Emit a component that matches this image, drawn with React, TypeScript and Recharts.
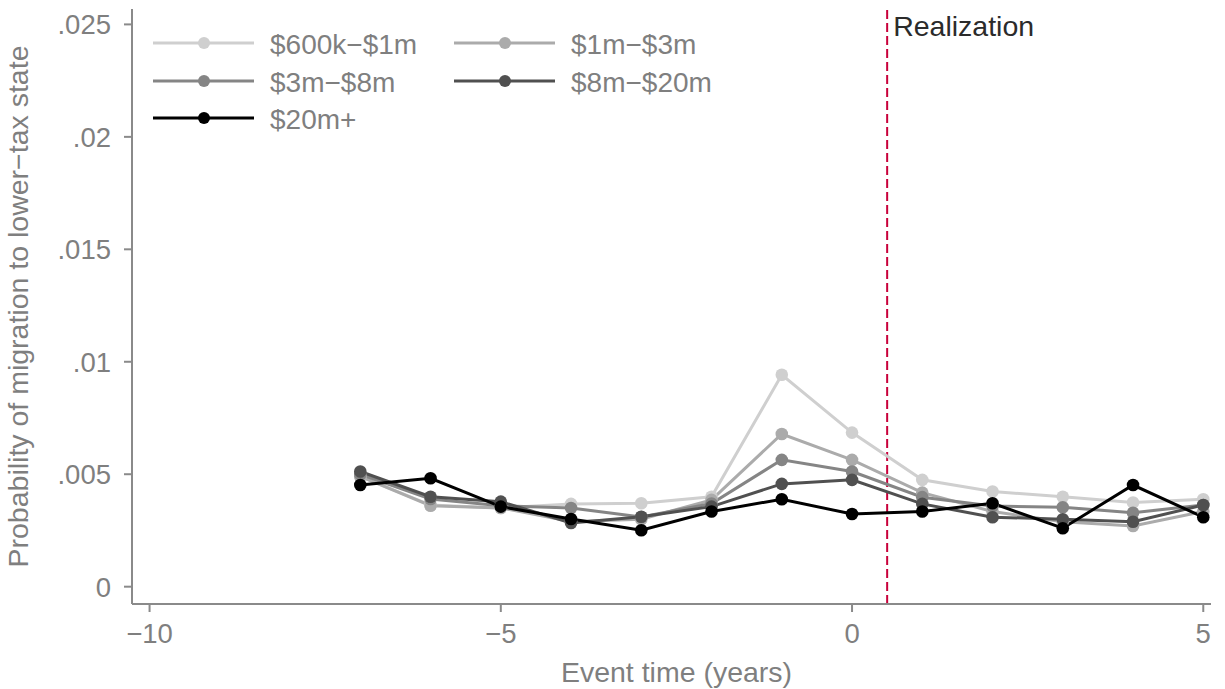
import { LineChart, Line, XAxis, YAxis, ReferenceLine, Legend } from 'recharts'

const years = [-7, -6, -5, -4, -3, -2, -1, 0, 1, 2, 3, 4, 5]

const band600k = [0.0049, 0.00363, 0.0035, 0.00368, 0.00371, 0.004, 0.00942, 0.00685, 0.00475, 0.00423, 0.004, 0.00374, 0.00389]
const band1m = [0.0049, 0.0036, 0.0035, 0.0029, 0.003, 0.00386, 0.00679, 0.00564, 0.00418, 0.00334, 0.00289, 0.0027, 0.00334]
const band3m = [0.005, 0.0039, 0.0036, 0.0035, 0.0031, 0.0037, 0.00564, 0.00512, 0.00398, 0.00359, 0.00353, 0.00329, 0.00363]
const band8m = [0.00512, 0.004, 0.00378, 0.00283, 0.00311, 0.00356, 0.00457, 0.00475, 0.00368, 0.00309, 0.003, 0.00289, 0.00363]
const band20m = [0.00452, 0.00482, 0.00356, 0.00301, 0.00251, 0.00334, 0.00389, 0.00323, 0.00334, 0.00371, 0.0026, 0.00452, 0.00309]

const xTicks = [-10, -5, 0, 5]
const yTicks = [0, 0.005, 0.01, 0.015, 0.02, 0.025]

const series = [
  { key: 'b600k', name: '$600k\u2212$1m', color: '#cfcfcf', values: band600k },
  { key: 'b1m', name: '$1m\u2212$3m', color: '#ababab', values: band1m },
  { key: 'b3m', name: '$3m\u2212$8m', color: '#858585', values: band3m },
  { key: 'b8m', name: '$8m\u2212$20m', color: '#505050', values: band8m },
  { key: 'b20m', name: '$20m+', color: '#000000', values: band20m },
]

const data = years.map((year, i) => {
  const row: any = { year }
  series.forEach(s => { row[s.key] = s.values[i] })
  return row
})

const FONT = '"Liberation Sans", Arial, Helvetica, sans-serif'
const TEXT_GRAY = '#7f7f7f'
const AXIS_GRAY = '#8a8a8a'

const fmtX = (v: number) => (v < 0 ? `\u2212${Math.abs(v)}` : `${v}`)
const fmtY = (v: number) => (v === 0 ? '0' : String(v).replace(/^0/, ''))

const XTick = ({ x, y, payload }: any) => (
  <text x={x} y={y + 19} textAnchor="middle" dy="0.36em" fill={TEXT_GRAY} fontSize={27.5} fontFamily={FONT}>
    {fmtX(payload.value)}
  </text>
)

const YTick = ({ x, y, payload }: any) => (
  <text x={x - 11} y={y} textAnchor="end" dy="0.36em" fill={TEXT_GRAY} fontSize={27.5} fontFamily={FONT}>
    {fmtY(payload.value)}
  </text>
)

const XTitle = ({ viewBox }: any) => {
  const { x, y, width } = viewBox
  return (
    <text x={x + width / 2 + 5} y={y + 68} textAnchor="middle" dy="0.36em" fill={TEXT_GRAY} fontSize={28.5} fontFamily={FONT}>
      Event time (years)
    </text>
  )
}

const YTitle = ({ viewBox }: any) => {
  const { y, height } = viewBox
  return (
    <g transform={`translate(18,${y + height / 2}) rotate(-90)`}>
      <text textAnchor="middle" dy="0.36em" fill={TEXT_GRAY} fontSize={28.5} fontFamily={FONT}>
        Probability of migration to lower{'\u2212'}tax state
      </text>
    </g>
  )
}

const RealizationLabel = ({ viewBox }: any) => {
  const { x, y } = viewBox
  return (
    <text x={x + 6} y={y + 27} fill="#2b2b2b" fontSize={28.5} fontFamily={FONT}>
      Realization
    </text>
  )
}

const LegendBox = () => {
  // two columns, filled row by row
  const colX = [0, 301]
  const rowY = [23, 61, 98]
  return (
    <svg width={580} height={120} style={{ overflow: 'visible' }}>
      {series.map((s, i) => {
        const cx = colX[i % 2]
        const cy = rowY[Math.floor(i / 2)]
        return (
          <g key={s.key}>
            <line x1={cx + 3} x2={cx + 104} y1={cy} y2={cy} stroke={s.color} strokeWidth={3} />
            <circle cx={cx + 54} cy={cy} r={6} fill={s.color} />
            <text x={cx + 120} y={cy + 1} dy="0.36em" fill={TEXT_GRAY} fontSize={28} fontFamily={FONT}>
              {s.name}
            </text>
          </g>
        )
      })}
    </svg>
  )
}

export default function App() {
  return (
    <div style={{ position: 'absolute', left: 0, top: 0, background: '#fff' }}>
      <LineChart width={1225} height={689} data={data} margin={{ top: 9, right: 14, bottom: 0, left: 0 }}>
        <XAxis
          dataKey="year"
          type="number"
          domain={[-10.25, 5.11]}
          ticks={xTicks}
          allowDataOverflow
          height={85}
          stroke={AXIS_GRAY}
          strokeWidth={2}
          tickSize={8}
          tickLine={{ stroke: AXIS_GRAY, strokeWidth: 2 }}
          tick={<XTick />}
          label={<XTitle />}
        />
        <YAxis
          type="number"
          domain={[-0.00077, 0.025685]}
          ticks={yTicks}
          allowDataOverflow
          width={132}
          stroke={AXIS_GRAY}
          strokeWidth={2}
          tickSize={8}
          tickLine={{ stroke: AXIS_GRAY, strokeWidth: 2 }}
          tick={<YTick />}
          label={<YTitle />}
        />
        <ReferenceLine x={0.5} stroke="#c8003a" strokeWidth={2} strokeDasharray="9 4" label={<RealizationLabel />} />
        {series.map(s => (
          <Line
            key={s.key}
            dataKey={s.key}
            name={s.name}
            stroke={s.color}
            strokeWidth={3}
            dot={{ r: 6.3, fill: s.color, stroke: 'none' }}
            activeDot={false}
            isAnimationActive={false}
          />
        ))}
        <Legend
          verticalAlign="middle"
          align="center"
          layout="horizontal"
          content={<LegendBox />}
          wrapperStyle={{ left: 150, top: 20, width: 580, height: 120 }}
        />
      </LineChart>
    </div>
  )
}
